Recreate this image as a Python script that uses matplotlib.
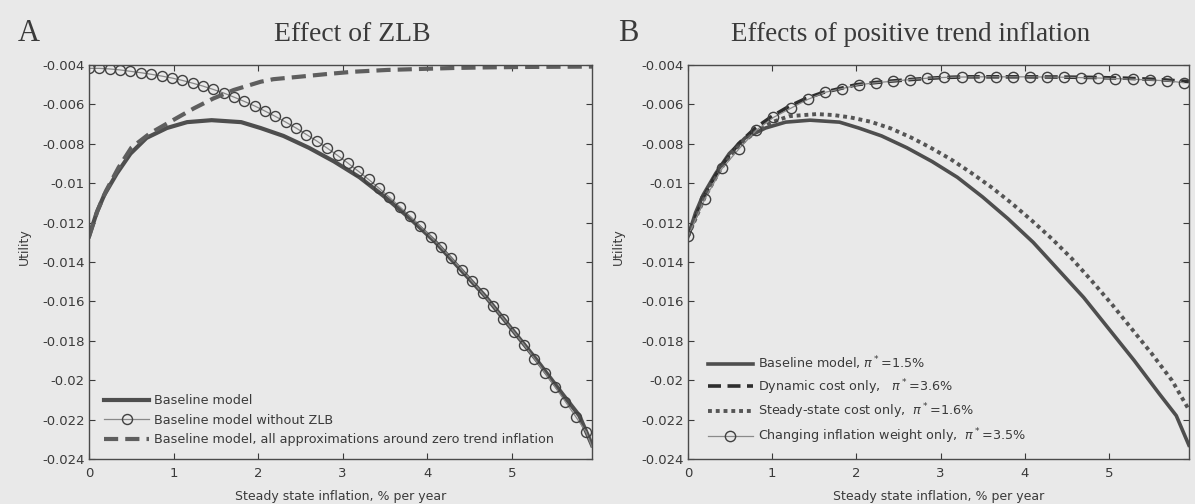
import numpy as np
import matplotlib
matplotlib.use('Agg')
import matplotlib.pyplot as plt

plt.rcParams['font.family'] = ['DejaVu Sans']
plt.rcParams['axes.unicode_minus'] = False

# baseline model (same curve in both panels)
base_x = [0, 0.09, 0.18, 0.33, 0.49, 0.68, 0.92, 1.16, 1.45, 1.8, 2.03, 2.3, 2.6, 2.9,
          3.2, 3.5, 3.8, 4.1, 4.4, 4.7, 5.0, 5.3, 5.6, 5.8, 5.95]
base_y = [-0.0127, -0.0115, -0.0106, -0.0095, -0.0085, -0.0077, -0.0072, -0.0069, -0.0068,
          -0.0069, -0.0072, -0.0076, -0.0082, -0.0089, -0.0097, -0.0107, -0.0118, -0.0130,
          -0.0144, -0.0158, -0.0174, -0.0190, -0.0207, -0.0218, -0.0233]

# panel A: without ZLB (one value per circle)
nozlb_x = np.linspace(0, 5.88, 49)
nozlb_y = [-0.00417, -0.00417, -0.00420, -0.00425, -0.00432, -0.00439, -0.00447, -0.00456,
           -0.00466, -0.00478, -0.00492, -0.00507, -0.00524, -0.00542, -0.00563, -0.00585,
           -0.00608, -0.00634, -0.00661, -0.00690, -0.00720, -0.00753, -0.00786, -0.00822,
           -0.00859, -0.00898, -0.00939, -0.00981, -0.01025, -0.01071, -0.01119, -0.01168,
           -0.01219, -0.01271, -0.01325, -0.01381, -0.01439, -0.01498, -0.01559, -0.01622,
           -0.01687, -0.01753, -0.01820, -0.01890, -0.01961, -0.02034, -0.02109, -0.02185,
           -0.02263]
nozlb_end = -0.0234

# panel A: all approximations around zero trend inflation
zero_x = [0, 0.1, 0.2, 0.35, 0.5, 0.72, 0.96, 1.24, 1.47, 1.71, 2.03, 2.18, 2.5, 2.81, 3.13,
          3.53, 3.92, 4.32, 4.71, 5.11, 5.5, 5.95]
zero_y = [-0.0127, -0.0114, -0.0104, -0.0092, -0.0082, -0.00747, -0.00688, -0.0062, -0.0057,
          -0.00527, -0.00485, -0.00472, -0.00459, -0.00446, -0.00434, -0.00425, -0.00420,
          -0.00415, -0.00412, -0.00410, -0.00409, -0.00408]

# panel B: dynamic cost only
dyn_x = [0, 0.1, 0.2, 0.3, 0.4, 0.6, 0.8, 1.0, 1.2, 1.4, 1.6, 1.8, 2.0, 2.2, 2.4, 2.7, 3.0,
         3.3, 3.6, 4.0, 4.4, 4.8, 5.2, 5.6, 5.95]
dyn_y = [-0.0127, -0.0116, -0.0106, -0.0098, -0.0091, -0.0080, -0.0072, -0.0066, -0.0061,
         -0.0057, -0.0054, -0.0052, -0.0050, -0.0049, -0.00482, -0.00472, -0.00464, -0.0046,
         -0.0046, -0.0046, -0.00461, -0.00463, -0.00467, -0.00474, -0.00484]

# panel B: steady-state cost only
ss_x = [0, 0.2, 0.4, 0.6, 0.8, 1.0, 1.2, 1.53, 1.73, 1.93, 2.17, 2.41, 2.65, 2.88, 3.12, 3.36,
        3.6, 3.84, 4.08, 4.32, 4.56, 4.79, 5.03, 5.27, 5.51, 5.75, 5.95]
ss_y = [-0.0127, -0.0107, -0.0092, -0.0081, -0.0074, -0.0069, -0.0066, -0.00649, -0.00654,
        -0.00666, -0.00688, -0.00722, -0.00768, -0.00819, -0.00878, -0.00946, -0.01019,
        -0.01100, -0.01188, -0.01281, -0.01383, -0.01493, -0.01612, -0.01739, -0.01866,
        -0.02002, -0.0215]

# panel B: changing inflation weight only (one value per circle)
weight_x = np.linspace(0, 5.89, 30)
weight_y = [-0.0127, -0.01078, -0.00925, -0.00824, -0.00731, -0.00666, -0.00620, -0.00575,
            -0.00539, -0.0052, -0.0050, -0.0049, -0.00482, -0.00474, -0.00467, -0.00463,
            -0.00461, -0.0046, -0.0046, -0.0046, -0.0046, -0.00461, -0.00462, -0.00464,
            -0.00466, -0.00469, -0.00472, -0.00476, -0.0048, -0.0049]

yticks = [-0.004, -0.006, -0.008, -0.01, -0.012, -0.014, -0.016, -0.018, -0.02, -0.022, -0.024]
ytick_labels = ['-0.004', '-0.006', '-0.008', '-0.01', '-0.012', '-0.014', '-0.016',
                '-0.018', '-0.02', '-0.022', '-0.024']
xticks = [0, 1, 2, 3, 4, 5]

bg = '#e9e9e9'
ink = '#3a3a3a'

fig = plt.figure(figsize=(11.95, 5.04), dpi=100, facecolor=bg)
axA = fig.add_axes([0.0745, 0.0893, 0.4209, 0.7817], facecolor=bg)
axB = fig.add_axes([0.5757, 0.0893, 0.4192, 0.7817], facecolor=bg)

# panel A
axA.plot(base_x, base_y, color='#4e4e4e', lw=3.0, label='Baseline model')
axA.plot([nozlb_x[-1], 5.95], [nozlb_y[-1], nozlb_end], color='#888888', lw=0.9)
axA.plot(nozlb_x, nozlb_y, color='#888888', lw=0.9, marker='o', ms=7.2, mfc='none',
         mec='#404040', mew=1.0, label='Baseline model without ZLB')
axA.plot(zero_x, zero_y, color='#5e5e5e', lw=3.0, ls=(0, (3.4, 1.7)),
         label='Baseline model, all approximations around zero trend inflation')

# panel B
axB.plot(base_x, base_y, color='#4e4e4e', lw=2.6, label=r'Baseline model, $\pi^*$=1.5%')
axB.plot(dyn_x, dyn_y, color='#2e2e2e', lw=2.6, ls=(0, (3.6, 1.8)),
         label=r'Dynamic cost only,   $\pi^*$=3.6%')
axB.plot(ss_x, ss_y, color='#555555', lw=2.8, ls=(0, (1, 1.0)),
         label=r'Steady-state cost only,  $\pi^*$=1.6%')
axB.plot(weight_x, weight_y, color='#8a8a8a', lw=0.9, marker='o', ms=7.4, mfc='none',
         mec='#404040', mew=1.0, label=r'Changing inflation weight only,  $\pi^*$=3.5%')

for ax in (axA, axB):
    ax.set_xlim(0, 5.95)
    ax.set_ylim(-0.024, -0.004)
    ax.set_xticks(xticks)
    ax.set_xticklabels([str(t) for t in xticks])
    ax.set_yticks(yticks)
    ax.set_yticklabels(ytick_labels)
    ax.tick_params(direction='in', length=4, width=0.8, top=True, right=True,
                   labelsize=9.5, colors=ink, pad=3)
    ax.tick_params(axis='x', pad=6)
    for s in ax.spines.values():
        s.set_color('#4a4a4a')
        s.set_linewidth(1.0)
    ax.set_xlabel('Steady state inflation, % per year', fontsize=9, color=ink)
    ax.xaxis.set_label_coords(0.5, -0.096)
    ax.xaxis.label.set_va('center')
    ax.set_ylabel('Utility', fontsize=9, color=ink)
    ax.yaxis.label.set_va('center')

axA.yaxis.set_label_coords(-0.129, 0.54)
axB.yaxis.set_label_coords(-0.138, 0.54)

axA.legend(loc='lower left', bbox_to_anchor=(0.02, 0.02), frameon=False, fontsize=9.2,
           handlelength=3.5, handletextpad=0.4, labelspacing=0.5, borderaxespad=0,
           labelcolor=ink)
axB.legend(loc='lower left', bbox_to_anchor=(0.03, 0.02), frameon=False, fontsize=9.2,
           handlelength=3.5, handletextpad=0.4, labelspacing=0.4, borderaxespad=0,
           labelcolor=ink)

fig.text(0.015, 0.918, 'A', family='Liberation Serif', fontsize=22, color=ink, va='baseline')
fig.text(0.517, 0.918, 'B', family='Liberation Serif', fontsize=22, color=ink, va='baseline')
fig.text(0.295, 0.918, 'Effect of ZLB', family='Liberation Serif', fontsize=20, color=ink,
         va='baseline', ha='center')
fig.text(0.762, 0.918, 'Effects of positive trend inflation', family='Liberation Serif',
         fontsize=19.5, color=ink, va='baseline', ha='center')

fig.savefig('out.png', dpi=100, facecolor=bg)
